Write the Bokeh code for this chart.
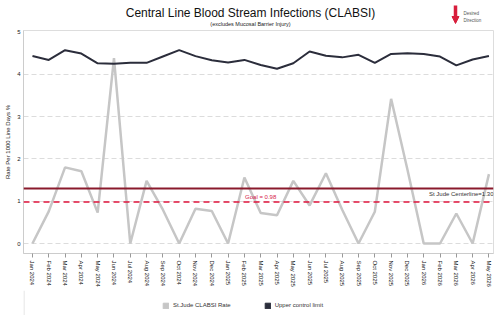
from bokeh.plotting import figure
from bokeh.layouts import column
from bokeh.models import (Range1d, FixedTicker, Span, Label, Legend, LegendItem,
                          Arrow, NormalHead)
from bokeh.embed import file_html
from bokeh.resources import INLINE

months = ["Jan 2024", "Feb 2024", "Mar 2024", "Apr 2024", "May 2024", "Jun 2024",
          "Jul 2024", "Aug 2024", "Sep 2024", "Oct 2024", "Nov 2024", "Dec 2024",
          "Jan 2025", "Feb 2025", "Mar 2025", "Apr 2025", "May 2025", "Jun 2025",
          "Jul 2025", "Aug 2025", "Sep 2025", "Oct 2025", "Nov 2025", "Dec 2025",
          "Jan 2026", "Feb 2026", "Mar 2026", "Apr 2026", "May 2026"]
clabsi_rate = [0.0, 0.76, 1.8, 1.71, 0.73, 4.38, 0.0, 1.48, 0.8, 0.0, 0.82, 0.77,
               0.0, 1.56, 0.72, 0.67, 1.48, 0.9, 1.66, 0.8, 0.0, 0.75, 3.42, 1.75,
               0.0, 0.0, 0.71, 0.0, 1.64]
upper_control_limit = [4.43, 4.34, 4.57, 4.49, 4.26, 4.25, 4.27, 4.27, 4.42, 4.57,
                       4.43, 4.33, 4.28, 4.34, 4.22, 4.13, 4.26, 4.54, 4.44, 4.40,
                       4.46, 4.27, 4.48, 4.50, 4.48, 4.42, 4.21, 4.35, 4.43]
centerline = 1.30
goal = 0.98
y_ticks = [0, 1, 2, 3, 4, 5]
title_text = "Central Line Blood Stream Infections (CLABSI)"
subtitle_text = "(excludes Mucosal Barrier Injury)"
series_names = ["St.Jude CLABSI Rate", "Upper control limit"]
series_colors = ["#c6c6c6", "#2b2d3b"]

FONT = "Liberation Sans"
W = 500
LEFT, RIGHT = 23, 7
HEADER_H, FOOTER_H = 28, 25
x = list(range(len(months)))


def blank_fig(h):
    f = figure(width=W, height=h, output_backend="svg", toolbar_location=None,
               x_range=Range1d(LEFT, W - RIGHT), y_range=Range1d(0, h),
               x_axis_type=None, y_axis_type=None,
               min_border_left=LEFT, min_border_right=RIGHT, min_border_top=0,
               min_border_bottom=0, outline_line_color=None,
               background_fill_color="white", border_fill_color="white")
    f.xgrid.visible = False
    f.ygrid.visible = False
    return f


# ---------------- header ----------------
hdr = blank_fig(HEADER_H)
hdr.add_layout(Label(x=W / 2, y=16, text=title_text, text_align="center",
                     text_baseline="middle", text_font=FONT, text_font_size="12px",
                     text_color="#111111"))
hdr.add_layout(Label(x=W / 2, y=5, text=subtitle_text, text_align="center",
                     text_baseline="middle", text_font=FONT, text_font_size="5.5px",
                     text_color="#222222"))
hdr.add_layout(Arrow(x_start=455, y_start=23, x_end=455, y_end=5,
                     line_color="#d81e3c", line_width=3.5,
                     end=NormalHead(size=7, fill_color="#d81e3c",
                                    line_color="#d81e3c")))
hdr.add_layout(Label(x=463, y=15, text="Desired", text_align="left",
                     text_baseline="middle", text_font=FONT, text_font_size="4.5px",
                     text_color="#555555"))
hdr.add_layout(Label(x=463, y=8, text="Direction", text_align="left",
                     text_baseline="middle", text_font=FONT, text_font_size="4.5px",
                     text_color="#555555"))

# ---------------- main chart ----------------
MAIN_H = 315 - HEADER_H - FOOTER_H
p = figure(width=W, height=MAIN_H, output_backend="svg", toolbar_location=None,
           x_range=Range1d(-0.55, 28.28), y_range=Range1d(-0.236, 5.035),
           min_border_left=LEFT, min_border_right=RIGHT, min_border_top=2,
           min_border_bottom=MAIN_H - 2 - 223, background_fill_color="white",
           border_fill_color="white", outline_line_color="#dddddd")

p.xgrid.grid_line_color = None
p.ygrid.grid_line_color = "#dcdcdc"
p.ygrid.grid_line_dash = "5 3"
p.ygrid.ticker = FixedTicker(ticks=y_ticks[:-1])

p.xaxis.ticker = FixedTicker(ticks=x)
p.xaxis.major_label_overrides = {i: m for i, m in enumerate(months)}
p.xaxis.major_label_orientation = "vertical"
p.xaxis.major_label_text_font = FONT
p.xaxis.major_label_text_font_size = "6px"
p.xaxis.major_label_text_color = "#222222"
p.xaxis.major_label_standoff = 3
p.xaxis.axis_line_color = "#cccccc"
p.xaxis.major_tick_line_color = "#999999"
p.xaxis.major_tick_out = 4
p.xaxis.major_tick_in = 0
p.xaxis.minor_tick_line_color = None

p.yaxis.ticker = FixedTicker(ticks=y_ticks)
p.yaxis.major_label_text_font = FONT
p.yaxis.major_label_text_font_size = "6px"
p.yaxis.major_label_text_color = "#222222"
p.yaxis.major_label_standoff = 3
p.yaxis.axis_line_color = "#cccccc"
p.yaxis.major_tick_line_color = None
p.yaxis.major_tick_out = 0
p.yaxis.major_tick_in = 0
p.yaxis.minor_tick_line_color = None
p.yaxis.minor_tick_out = 0
p.yaxis.axis_label = "Rate Per 1000 Line Days %"
p.yaxis.axis_label_text_font = FONT
p.yaxis.axis_label_text_font_size = "6px"
p.yaxis.axis_label_text_font_style = "normal"
p.yaxis.axis_label_text_color = "#222222"
p.yaxis.axis_label_standoff = 3

p.add_layout(Span(location=goal, dimension="width", line_color="#e0143c",
                  line_width=1.6, line_dash="6 4"))
p.add_layout(Span(location=centerline, dimension="width", line_color="#8a1a2c",
                  line_width=2))

p.line(x, clabsi_rate, line_color=series_colors[0], line_width=2.5)
p.line(x, upper_control_limit, line_color=series_colors[1], line_width=2)

p.add_layout(Label(x=(len(months) - 1) / 2, y=goal, text=f"Goal = {goal:.2f}",
                   text_align="center", text_baseline="bottom", y_offset=2,
                   text_font=FONT, text_font_size="6px", text_color="#d6204a"))
p.add_layout(Label(x=p.x_range.end, y=centerline,
                   text=f"St Jude Centerline={centerline:.2f}",
                   text_align="right", text_baseline="top", y_offset=-2,
                   text_font=FONT, text_font_size="6px", text_color="#333333"))

# ---------------- footer legend ----------------
ftr = blank_fig(FOOTER_H)
ftr.add_layout(Span(location=LEFT + 0.5, dimension="height", line_color="#dddddd",
                    line_width=1))
proxies = [ftr.rect([0], [0], 1, 1, fill_color=c, line_color=c, visible=False)
           for c in series_colors]
legend = Legend(items=[LegendItem(label=n, renderers=[r])
                       for n, r in zip(series_names, proxies)],
                orientation="horizontal", location=(162 - LEFT, 6),
                label_text_font=FONT, label_text_font_size="6px",
                label_text_color="#333333", glyph_width=7, glyph_height=7,
                label_height=8, label_standoff=4, spacing=33, padding=0, margin=0,
                border_line_color=None, background_fill_alpha=0)
ftr.add_layout(legend, "center")

layout = column(hdr, p, ftr, spacing=0)
open("out.html", "w").write(file_html(layout, INLINE))
